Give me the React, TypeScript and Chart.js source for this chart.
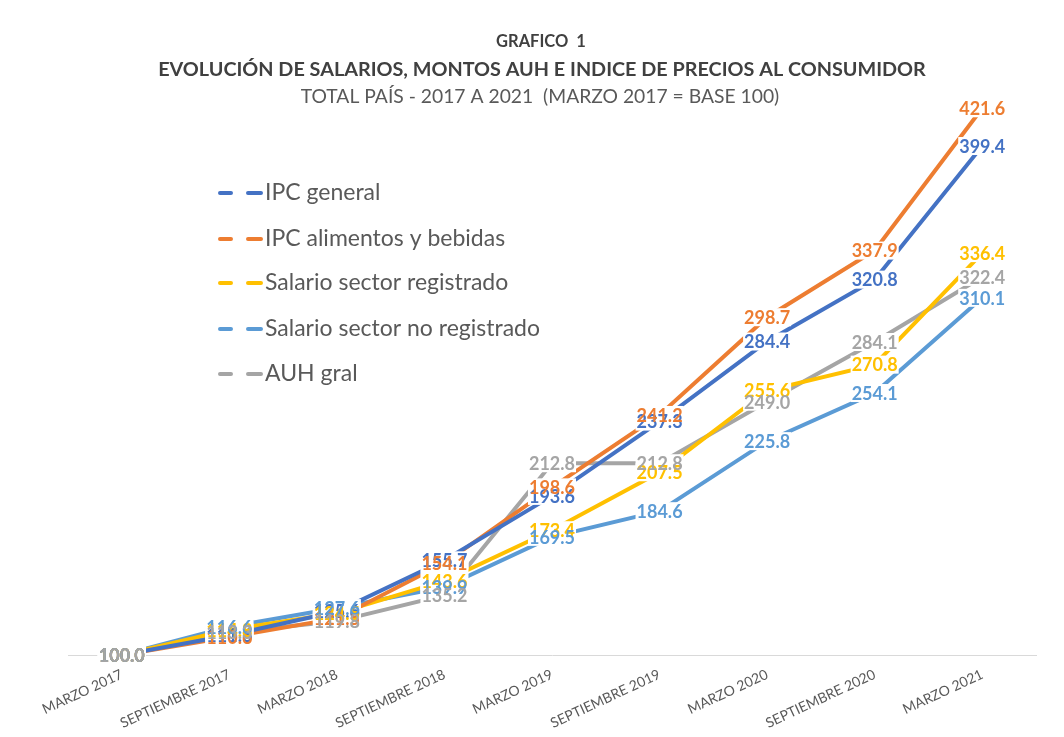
import React, { useEffect, useRef } from "react";
import { Chart, registerables } from "chart.js";

Chart.register(...registerables);

const categories = [
  "MARZO 2017",
  "SEPTIEMBRE 2017",
  "MARZO 2018",
  "SEPTIEMBRE 2018",
  "MARZO 2019",
  "SEPTIEMBRE 2019",
  "MARZO 2020",
  "SEPTIEMBRE 2020",
  "MARZO 2021",
];

const ipcGeneral = [100.0, 111.6, 125.6, 155.7, 193.6, 237.3, 284.4, 320.8, 399.4];
const ipcAlimentos = [100.0, 110.6, 121.5, 154.1, 198.6, 241.2, 298.7, 337.9, 421.6];
const salarioRegistrado = [100.0, 114.8, 124.5, 143.6, 173.4, 207.5, 255.6, 270.8, 336.4];
const salarioNoRegistrado = [100.0, 116.6, 127.6, 139.9, 169.5, 184.6, 225.8, 254.1, 310.1];
const auhGral = [100.0, 113.3, 119.8, 135.2, 212.8, 212.8, 249.0, 284.1, 322.4];

const seriesNames = [
  "IPC general",
  "IPC alimentos y bebidas",
  "Salario sector registrado",
  "Salario sector no registrado",
  "AUH gral",
];
const seriesColors = ["#4472C4", "#ED7D31", "#FFC000", "#5B9BD5", "#A5A5A5"];
const seriesValues = [ipcGeneral, ipcAlimentos, salarioRegistrado, salarioNoRegistrado, auhGral];

const titleLines = [
  "GRAFICO  1",
  "EVOLUCIÓN DE SALARIOS, MONTOS AUH E INDICE DE PRECIOS AL CONSUMIDOR",
  "TOTAL PAÍS - 2017 A 2021  (MARZO 2017 = BASE 100)",
];

const FONT = "Lato, 'Open Sans', sans-serif";

const titlePlugin = {
  id: "customTitles",
  afterDraw(chart: any) {
    const ctx = chart.ctx;
    ctx.save();
    ctx.textAlign = "center";
    ctx.textBaseline = "middle";
    ctx.fillStyle = "#404040";
    ctx.font = `bold 16.5px ${FONT}`;
    ctx.fillText(titleLines[0], 541, 42);
    ctx.font = `bold 19.8px ${FONT}`;
    ctx.fillText(titleLines[1], 542, 70);
    ctx.fillStyle = "#595959";
    ctx.font = `19.3px ${FONT}`;
    ctx.fillText(titleLines[2], 540, 97);
    ctx.restore();
  },
};

const legendPlugin = {
  id: "customLegend",
  afterDraw(chart: any) {
    const ctx = chart.ctx;
    ctx.save();
    const ys = [193, 239, 283, 329, 374];
    ctx.font = `23px ${FONT}`;
    ctx.textBaseline = "middle";
    ctx.textAlign = "left";
    seriesNames.forEach((name, i) => {
      const y = ys[i];
      ctx.strokeStyle = seriesColors[i];
      ctx.lineWidth = 4;
      ctx.lineCap = "round";
      ctx.beginPath();
      ctx.moveTo(220, y);
      ctx.lineTo(231, y);
      ctx.moveTo(248, y);
      ctx.lineTo(261, y);
      ctx.stroke();
      ctx.fillStyle = "#595959";
      ctx.fillText(name, 265, y);
    });
    ctx.restore();
  },
};

const dataLabelPlugin = {
  id: "dataLabels",
  afterDatasetsDraw(chart: any) {
    const ctx = chart.ctx;
    ctx.save();
    ctx.font = `bold 18px ${FONT}`;
    ctx.textAlign = "center";
    ctx.textBaseline = "middle";
    const items: any[] = [];
    chart.data.datasets.forEach((ds: any, i: number) => {
      const meta = chart.getDatasetMeta(i);
      meta.data.forEach((pt: any, j: number) => {
        const text = Number(ds.data[j]).toFixed(1);
        items.push({ x: pt.x, y: pt.y, text, color: ds.borderColor });
      });
    });
    ctx.fillStyle = "#ffffff";
    items.forEach((it) => {
      const w = ctx.measureText(it.text).width + 2;
      ctx.fillRect(it.x - w / 2, it.y - 9, w, 18);
    });
    items.forEach((it) => {
      ctx.fillStyle = it.color;
      ctx.fillText(it.text, it.x, it.y + 1);
    });
    ctx.restore();
  },
};

export default function App() {
  const canvasRef = useRef<HTMLCanvasElement | null>(null);

  useEffect(() => {
    if (!canvasRef.current) return;
    const chart = new Chart(canvasRef.current, {
      type: "line",
      data: {
        labels: categories,
        datasets: seriesNames.map((name, i) => ({
          label: name,
          data: seriesValues[i],
          borderColor: seriesColors[i],
          backgroundColor: seriesColors[i],
          borderWidth: 4,
          pointRadius: 0,
          tension: 0,
          fill: false,
        })),
      },
      options: {
        animation: false,
        responsive: false,
        devicePixelRatio: 1,
        layout: { padding: { left: 68, right: 28, top: 60, bottom: 0 } },
        plugins: {
          legend: { display: false },
          title: { display: false },
          tooltip: { enabled: false },
        },
        scales: {
          x: {
            offset: true,
            grid: { display: false },
            border: { display: true, color: "#D9D9D9", width: 1 },
            afterFit(scale: any) {
              scale.height = 82;
            },
            ticks: {
              autoSkip: false,
              minRotation: 25,
              maxRotation: 25,
              color: "#595959",
              padding: 3,
              font: { family: FONT, size: 14 },
            },
          },
          y: {
            display: false,
            min: 100,
            max: 450,
          },
        },
      },
      plugins: [dataLabelPlugin, legendPlugin, titlePlugin],
    });
    return () => chart.destroy();
  }, []);

  return (
    <div
      style={{
        position: "fixed",
        left: 0,
        top: 0,
        width: 1064,
        height: 737,
        background: "#ffffff",
        overflow: "hidden",
      }}
    >
      <canvas ref={canvasRef} width={1064} height={737} style={{ display: "block" }} />
    </div>
  );
}
